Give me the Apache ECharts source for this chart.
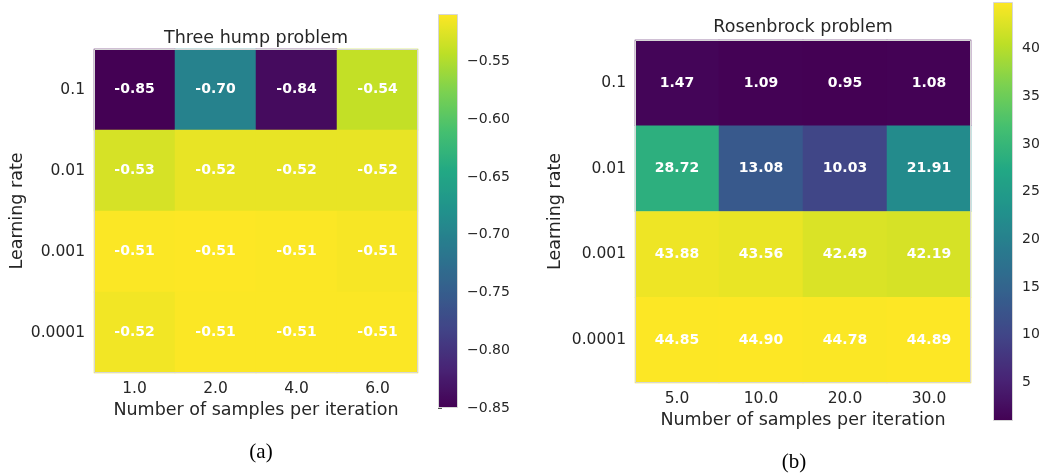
<!DOCTYPE html>
<html>
<head>
<meta charset="utf-8">
<script src="https://cdn.jsdelivr.net/npm/echarts@6/dist/echarts.min.js"></script>
<style>html,body{margin:0;padding:0;background:#fff;}#c{width:1053px;height:473px;}</style>
</head>
<body>
<div id="c"></div>
<script>
const learningRates = ['0.1', '0.01', '0.001', '0.0001'];
const samplesA = ['1.0', '2.0', '4.0', '6.0'];
const samplesB = ['5.0', '10.0', '20.0', '30.0'];
const threeHump = [
  [-0.85, -0.70, -0.84, -0.54],
  [-0.53, -0.52, -0.52, -0.52],
  [-0.51, -0.509, -0.51, -0.512],
  [-0.515, -0.51, -0.51, -0.51]
];
const rosenbrock = [
  [1.47, 1.09, 0.95, 1.08],
  [28.72, 13.08, 10.03, 21.91],
  [43.88, 43.56, 42.49, 42.19],
  [44.85, 44.90, 44.78, 44.89]
];
const ticksA = [-0.85, -0.80, -0.75, -0.70, -0.65, -0.60, -0.55];
const ticksB = [5, 10, 15, 20, 25, 30, 35, 40];
const rangeA = [-0.85, -0.509];
const rangeB = [0.95, 44.90];

const viridis = ['#440154','#482475','#414487','#355f8d','#2a788e','#21918c','#22a884','#44bf70','#7ad151','#bddf26','#fde725'];
const txt = '#262626';
const font = 'DejaVu Sans';

function toData(m) {
  const out = [];
  m.forEach((row, r) => row.forEach((v, c) => out.push([c, r, v])));
  return out;
}

const gA = {left: 94, top: 49, width: 324, height: 324};
const gB = {left: 635, top: 40, width: 336, height: 343};
const cbA = {left: 438, top: 14, width: 20, height: 394};
const cbB = {left: 993, top: 2, width: 20, height: 419};

function catX(idx, cats, gap) {
  return {
    type: 'category', gridIndex: idx, data: cats,
    axisLine: {show: false}, axisTick: {show: false}, splitLine: {show: false},
    axisLabel: {color: txt, fontSize: 15.5, fontFamily: font, margin: 8},
    name: 'Number of samples per iteration', nameLocation: 'middle', nameGap: gap,
    nameTextStyle: {color: txt, fontSize: 17.5, fontFamily: font}
  };
}
function catY(idx, gap) {
  return {
    type: 'category', gridIndex: idx, data: learningRates, inverse: true,
    axisLine: {show: false}, axisTick: {show: false}, splitLine: {show: false},
    axisLabel: {color: txt, fontSize: 15.5, fontFamily: font, margin: 9},
    name: 'Learning rate', nameLocation: 'middle', nameGap: gap,
    nameTextStyle: {color: txt, fontSize: 17.5, fontFamily: font}
  };
}
function cbY(idx, range, ticks, fmt) {
  return {
    type: 'value', gridIndex: idx, min: range[0], max: range[1], position: 'right',
    axisLine: {show: false}, splitLine: {show: false},
    axisTick: {show: true, length: 4, lineStyle: {color: '#555'}, customValues: ticks},
    axisLabel: {color: txt, fontSize: 14, fontFamily: font, margin: 9, customValues: ticks, formatter: fmt}
  };
}
function heat(idx, m) {
  return {
    type: 'heatmap', xAxisIndex: idx, yAxisIndex: idx, data: toData(m),
    label: {show: true, color: '#fff', fontWeight: 'bold', fontSize: 14, fontFamily: font,
      formatter: p => p.value[2].toFixed(2)},
    emphasis: {disabled: true}
  };
}
function border(g) {
  return {type: 'rect', shape: {x: g.left + 0.5, y: g.top + 0.5, width: g.width - 1, height: g.height - 1},
    style: {fill: null, stroke: '#d6d6d6', lineWidth: 1}, z: 100, silent: true};
}

const option = {
  backgroundColor: '#fff',
  animation: false,
  grid: [
    Object.assign({}, gA),
    Object.assign({}, gB),
    Object.assign({}, cbA),
    Object.assign({}, cbB)
  ],
  xAxis: [
    catX(0, samplesA, 27),
    catX(1, samplesB, 28),
    {type: 'value', gridIndex: 2, show: false},
    {type: 'value', gridIndex: 3, show: false}
  ],
  yAxis: [
    catY(0, 67),
    catY(1, 71),
    cbY(2, rangeA, ticksA, v => '\u2212' + Math.abs(v).toFixed(2)),
    cbY(3, rangeB, ticksB, v => String(Math.round(v)))
  ],
  visualMap: [
    {type: 'continuous', seriesIndex: 0, min: rangeA[0], max: rangeA[1], calculable: false,
      left: cbA.left, top: cbA.top, itemWidth: cbA.width, itemHeight: cbA.height, padding: 0,
      text: null, showLabel: false, inRange: {color: viridis}, hoverLink: false, indicatorSize: 0},
    {type: 'continuous', seriesIndex: 1, min: rangeB[0], max: rangeB[1], calculable: false,
      left: cbB.left, top: cbB.top, itemWidth: cbB.width, itemHeight: cbB.height, padding: 0,
      text: null, showLabel: false, inRange: {color: viridis}, hoverLink: false, indicatorSize: 0}
  ],
  series: [heat(0, threeHump), heat(1, rosenbrock)],
  graphic: [
    {type: 'text', x: 256, y: 38, style: {text: 'Three hump problem', fill: txt, font: '17.5px "DejaVu Sans"', align: 'center', verticalAlign: 'middle'}},
    {type: 'text', x: 803, y: 27, style: {text: 'Rosenbrock problem', fill: txt, font: '17.5px "DejaVu Sans"', align: 'center', verticalAlign: 'middle'}},
    {type: 'text', x: 261, y: 452, style: {text: '(a)', fill: '#000', font: '21px "Liberation Serif"', align: 'center', verticalAlign: 'middle'}},
    {type: 'text', x: 794, y: 462, style: {text: '(b)', fill: '#000', font: '21px "Liberation Serif"', align: 'center', verticalAlign: 'middle'}},
    border(gA), border(gB), border(cbA), border(cbB)
  ]
};

const chart = echarts.init(document.getElementById('c'), null, {renderer: 'canvas'});
chart.setOption(option);
</script>
</body>
</html>
